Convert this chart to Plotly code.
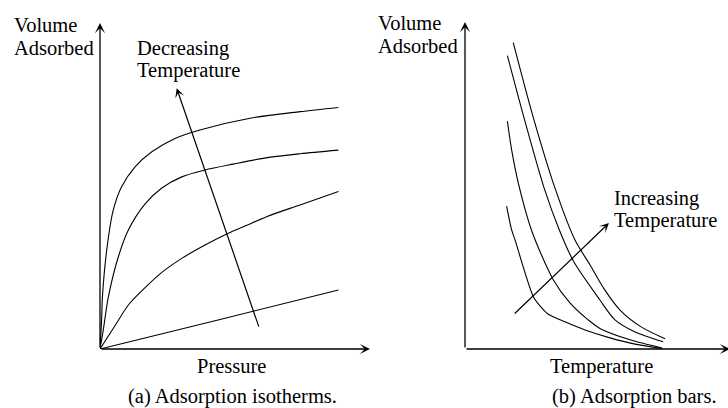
import plotly.graph_objects as go

# ---------------- data (panel a: adsorption isotherms) ----------------
# pressure (0-10 axis units) / volume adsorbed (0-10 axis units)
iso1_p = [0, 0.06, 0.09, 0.25, 0.49, 0.80, 1.30, 1.92, 2.78, 3.70, 5.56, 7.41, 8.83]
iso1_v = [0, 0.89, 1.60, 3.04, 4.26, 4.98, 5.59, 6.05, 6.46, 6.72, 7.08, 7.28, 7.41]
iso2_p = [0, 0.12, 0.31, 0.68, 1.05, 1.67, 2.29, 3.03, 3.89, 4.93, 6.19, 7.41, 8.83]
iso2_v = [0, 0.58, 1.60, 2.83, 3.65, 4.45, 4.94, 5.28, 5.49, 5.67, 5.87, 5.99, 6.10]
iso3_p = [0, 0.56, 1.05, 1.67, 2.29, 3.03, 3.89, 4.75, 5.37, 6.17, 7.41, 8.83]
iso3_v = [0, 0.72, 1.35, 1.88, 2.35, 2.78, 3.19, 3.55, 3.77, 4.06, 4.42, 4.83]
iso4_p = [0, 4.41, 8.83]
iso4_v = [0, 0.90, 1.81]
arrow_a = {"tail": (5.90, 0.64), "head": (2.84, 8.00)}

# ---------------- data (panel b: adsorption isobars) ----------------
# temperature (0-10 axis units) / volume adsorbed (0-10 axis units)
bar1_t = [1.82, 2.57, 3.40, 4.15, 4.72, 5.28, 5.85, 6.60, 7.55]
bar1_v = [9.37, 7.10, 4.91, 3.33, 2.57, 1.80, 1.19, 0.70, 0.31]
bar2_t = [1.60, 2.25, 2.99, 3.56, 4.09, 5.09, 5.66, 6.42, 7.48]
bar2_v = [8.97, 7.00, 4.91, 3.64, 2.69, 1.50, 0.89, 0.52, 0.22]
bar3_t = [1.60, 1.76, 2.02, 2.52, 3.33, 3.96, 4.65, 5.09, 6.23, 7.43]
bar3_v = [6.97, 6.09, 5.05, 3.61, 2.12, 1.41, 0.89, 0.63, 0.28, 0.03]
bar4_t = [1.57, 1.76, 1.89, 2.58, 2.87, 3.13, 3.77, 4.53, 5.47, 6.42, 7.43]
bar4_v = [4.37, 3.64, 3.33, 1.60, 1.28, 1.07, 0.83, 0.58, 0.34, 0.15, 0.02]
arrow_b = {"tail": (1.82, 1.04), "head": (5.43, 3.85)}

FONT = "Liberation Serif, Times New Roman, serif"
FS = 20.5
W, H = 728, 408

fig = go.Figure()

line_style = dict(color="black", width=1.1, shape="spline", smoothing=0.8)
for px_, vy_ in [(iso1_p, iso1_v), (iso2_p, iso2_v), (iso3_p, iso3_v), (iso4_p, iso4_v)]:
    fig.add_trace(go.Scatter(x=px_, y=vy_, mode="lines", line=line_style,
                             xaxis="x", yaxis="y", hoverinfo="skip", showlegend=False))
for tx_, vy_ in [(bar1_t, bar1_v), (bar2_t, bar2_v), (bar3_t, bar3_v), (bar4_t, bar4_v)]:
    fig.add_trace(go.Scatter(x=tx_, y=vy_, mode="lines", line=line_style,
                             xaxis="x2", yaxis="y2", hoverinfo="skip", showlegend=False))

hidden = dict(visible=False, fixedrange=True)
fig.update_layout(
    width=W, height=H,
    margin=dict(l=0, r=0, t=0, b=0),
    paper_bgcolor="white", plot_bgcolor="rgba(0,0,0,0)",
    xaxis=dict(domain=[100 / W, 370 / W], range=[0, 10], anchor="y", **hidden),
    yaxis=dict(domain=[1 - 349 / H, 1 - 23 / H], range=[0, 10], anchor="x", **hidden),
    xaxis2=dict(domain=[465 / W, 1.0], range=[0, 263 / 26.5], anchor="y2", **hidden),
    yaxis2=dict(domain=[1 - 349 / H, 1 - 22 / H], range=[0, 10], anchor="x2", **hidden),
    showlegend=False,
)

def arrow(xref, yref, tail, head, width):
    fig.add_annotation(x=head[0], y=head[1], ax=tail[0], ay=tail[1],
                       xref=xref, yref=yref, axref=xref, ayref=yref,
                       text="", showarrow=True, arrowhead=3, arrowsize=1.3,
                       arrowwidth=width, arrowcolor="black", standoff=0, startstandoff=0)

# axes drawn as arrows
arrow("x", "y", (0, 0), (10, 0), 1.3)
arrow("x", "y", (0, 0), (0, 10), 1.3)
arrow("x2", "y2", (0, 0), (10, 0), 1.3)
arrow("x2", "y2", (0, 0), (0, 10), 1.3)
# direction arrows
arrow("x", "y", arrow_a["tail"], arrow_a["head"], 1.2)
arrow("x2", "y2", arrow_b["tail"], arrow_b["head"], 1.2)

def label(text, xpx, ypx, anchor="left"):
    fig.add_annotation(x=xpx / W, y=1 - ypx / H, xref="paper", yref="paper",
                       text=text, showarrow=False, xanchor=anchor, yanchor="middle",
                       font=dict(family=FONT, size=FS, color="black"))

label("Volume", 12, 25)
label("Adsorbed", 12, 47.5)
label("Decreasing", 135, 48)
label("Temperature", 135, 70)
label("Pressure", 232, 366, "center")
label("(a) Adsorption isotherms.", 233, 396.5, "center")

label("Volume", 376, 23)
label("Adsorbed", 376, 46)
label("Increasing", 612, 198)
label("Temperature", 612, 220)
label("Temperature", 601.5, 366, "center")
label("(b) Adsorption bars.", 634, 396.5, "center")

fig.write_html("out.html", config={"displayModeBar": False},
               post_script="document.body.style.margin='0';document.body.style.overflow='hidden';")
